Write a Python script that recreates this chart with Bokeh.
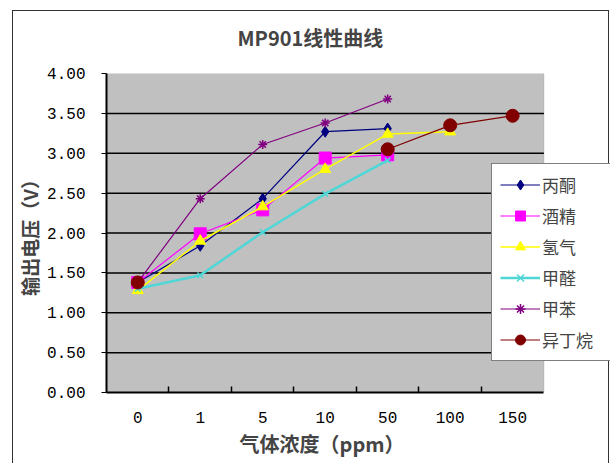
from bokeh.plotting import figure
from bokeh.models import (FixedTicker, Legend, LegendItem, BoxAnnotation, Range1d,
                          NumeralTickFormatter, ColumnDataSource, Title)
from bokeh.embed import file_html
from bokeh.resources import INLINE

nan = float("nan")

categories = ["0", "1", "5", "10", "50", "100", "150"]
series_names = ["丙酮", "酒精", "氢气", "甲醛", "甲苯", "异丁烷"]
bingtong = [1.38, 1.84, 2.43, 3.27, 3.31, nan, nan]
jiujing = [1.38, 1.99, 2.29, 2.94, 2.98, nan, nan]
qingqi = [1.28, 1.90, 2.33, 2.80, 3.24, 3.27, nan]
jiaquan = [1.30, 1.47, 2.01, 2.49, 2.91, nan, nan]
jiaben = [1.38, 2.43, 3.11, 3.38, 3.68, nan, nan]
yidingwan = [1.38, nan, nan, nan, 3.05, 3.35, 3.47]
y_ticks = [0, 0.5, 1.0, 1.5, 2.0, 2.5, 3.0, 3.5, 4.0]
grid_levels = [0.5, 1.0, 1.5, 2.0, 2.5, 3.0, 3.5]

series_values = [bingtong, jiujing, qingqi, jiaquan, jiaben, yidingwan]
colors = ["#000080", "#FF00FF", "#FFFF00", "#4FD6D6", "#800080", "#800000"]
markers = ["diamond", "square", "triangle", "x", "asterisk", "circle"]
msizes = [11, 12, 11, 8, 9, 13]
lwidths = [1.2, 1.2, 1.5, 2.5, 1.2, 1.2]

ncat = len(categories)
xs = [i + 0.5 for i in range(ncat)]

CJK = "Noto Sans CJK SC"
MONO = "Liberation Mono"

W, H = 597, 453
ML, MT, MB = 90, 62, 72
FRAME_W = W - ML            # frame runs to the right edge (legend sits outside plot area)
PLOT_W = 440                # width of grey plot area

p = figure(width=W, height=H, output_backend="svg", toolbar_location=None,
           x_range=Range1d(0, ncat * FRAME_W / PLOT_W), y_range=Range1d(0, 4),
           min_border_left=ML, min_border_right=0, min_border_top=MT,
           min_border_bottom=MB)
p.styles = {"margin-left": "12px", "margin-top": "10px",
            "border-left": "1.5px solid #333", "border-top": "1.5px solid #333",
            "border-right": "1.5px solid #333"}

p.background_fill_color = "white"
p.border_fill_color = "white"
p.outline_line_color = None

# grey plot area
area = BoxAnnotation(left=0, right=ncat, bottom=0, top=4, fill_color="#C0C0C0",
                     fill_alpha=1, line_color="#808080", line_width=1, level="underlay")
p.add_layout(area)

p.title.text = "MP901线性曲线"
p.title.text_font = CJK
p.title.text_font_style = "bold"
p.title.text_font_size = "20px"
p.title.align = "left"
p.title.offset = 131
try:
    p.title.padding = dict(top=0, right=0, bottom=22, left=0)
    p.title.standoff = 0
except Exception:
    p.title.standoff = 31

p.xgrid.grid_line_color = None
p.ygrid.grid_line_color = None
p.segment(x0=[0] * len(grid_levels), x1=[ncat] * len(grid_levels),
          y0=grid_levels, y1=grid_levels, line_color="black", line_width=1.5)

# x axis
xa = p.xaxis[0]
xa.bounds = (0, ncat)
xa.ticker = FixedTicker(ticks=xs, minor_ticks=list(range(1, ncat)))
xa.major_label_overrides = {x: c for x, c in zip(xs, categories)}
xa.major_tick_line_color = None
xa.minor_tick_line_color = "black"
xa.minor_tick_in = 6
xa.minor_tick_out = 0
xa.minor_tick_line_width = 1.5
xa.axis_line_color = "black"
xa.axis_line_width = 2
xa.major_label_text_font = MONO
xa.major_label_text_font_size = "16px"
xa.major_label_text_color = "black"
xa.major_label_standoff = 13

xt = Title(text="气体浓度（ppm）", align="left", offset=133, text_font=CJK,
           text_font_style="bold", text_font_size="20px", standoff=2)
p.add_layout(xt, "below")

# y axis
ya = p.yaxis[0]
ya.ticker = FixedTicker(ticks=y_ticks)
ya.formatter = NumeralTickFormatter(format="0.00")
ya.minor_tick_line_color = None
ya.major_tick_in = 0
ya.major_tick_out = 5
ya.major_tick_line_color = "black"
ya.axis_line_color = "black"
ya.axis_line_width = 2
ya.major_label_text_font = MONO
ya.major_label_text_font_size = "16px"
ya.major_label_text_color = "black"
ya.major_label_standoff = 16
ya.axis_label = "输出电压（V）"
ya.axis_label_text_font = CJK
ya.axis_label_text_font_style = "bold"
ya.axis_label_text_font_size = "19px"
ya.axis_label_standoff = 1

items = []
for name, vals, c, m, s, lw in zip(series_names, series_values, colors, markers, msizes, lwidths):
    src = ColumnDataSource(dict(x=xs, y=vals))
    r1 = p.line("x", "y", source=src, line_color=c, line_width=lw)
    r2 = p.scatter("x", "y", source=src, marker=m, size=s, fill_color=c,
                   line_color=c, line_width=1.5 if m in ("x", "asterisk") else 1)
    items.append(LegendItem(label=name, renderers=[r1, r2]))

legend = Legend(items=items, location=(385, 31))
legend.border_line_color = "black"
legend.border_line_width = 1
legend.background_fill_color = "white"
legend.background_fill_alpha = 1
legend.label_text_font = CJK
legend.label_text_font_size = "17px"
legend.label_height = 25
legend.glyph_height = 25
legend.glyph_width = 40
legend.label_width = 60
legend.label_standoff = 2
legend.spacing = 6
legend.padding = 8
legend.margin = 0
p.add_layout(legend, "center")

open("out.html", "w").write(file_html(p, INLINE))
